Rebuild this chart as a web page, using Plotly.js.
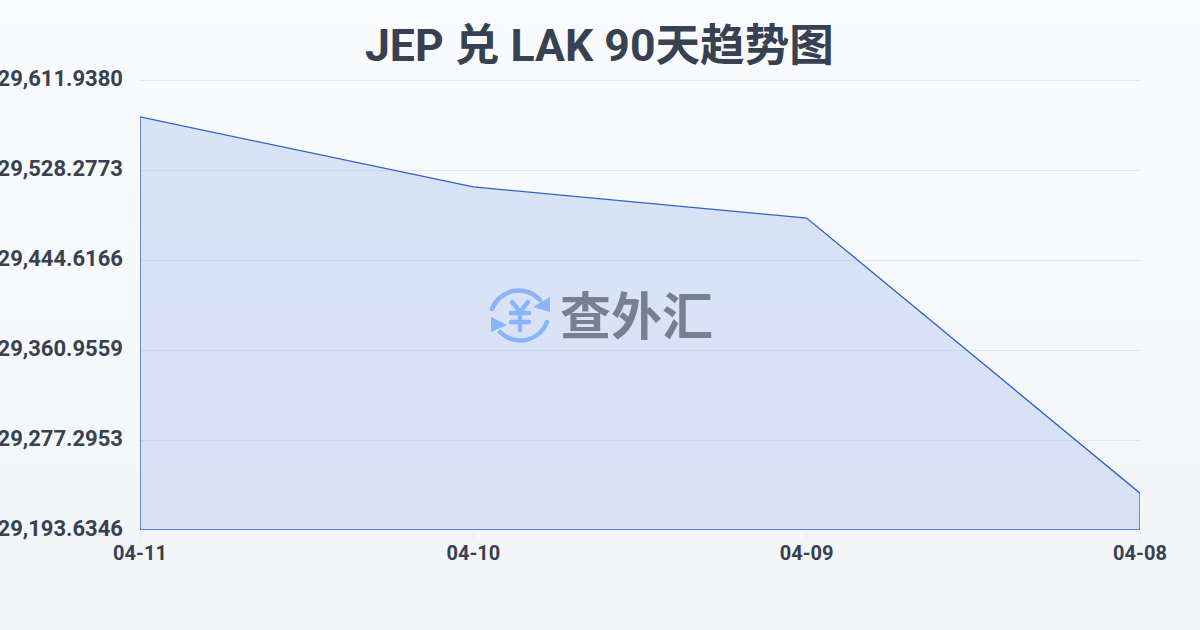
<!DOCTYPE html>
<html><head><meta charset="utf-8">
<script src="https://cdn.plot.ly/plotly-3.0.1.min.js"></script>
<style>
html,body{margin:0;padding:0;width:1200px;height:630px;overflow:hidden;background:linear-gradient(180deg,#fafbfd 0%,#f3f4f7 100%);}
#c{width:1200px;height:630px;}
</style></head><body><div id="c"></div>
<script>
const categories=["04-11","04-10","04-09","04-08"];
const values=[29577.6,29512.5,29483.6,29227.9];
const yTickVals=[29193.6346,29277.2953,29360.9559,29444.6166,29528.2773,29611.9380];
const yTickText=["29,193.6346","29,277.2953","29,360.9559","29,444.6166","29,528.2773","29,611.9380"];
const yMin=yTickVals[0], yMax=yTickVals[yTickVals.length-1];
const FONT='Roboto,"Noto Sans CJK SC",sans-serif';
const logo='<svg xmlns="http://www.w3.org/2000/svg" viewBox="0 0 60 60" width="60" height="60">'+
 '<g fill="none" stroke="#8ab4f8" stroke-width="4.5" stroke-linecap="round">'+
 '<path d="M2 24 A28.5 28.5 0 0 1 50 15"/><path d="M57 37 A28.5 28.5 0 0 1 10 47"/>'+
 '<path d="M22 17 L30 27 L38 17 M21 28 H39 M21 37 H39 M30 27 V45" stroke-width="4.5"/></g>'+
 '<path d="M60 12 L60 27 L43 22 Z M1 32 L17 40 L1 47 Z" fill="#8ab4f8"/></svg>';
const trace={
  type:"scatter",mode:"lines",
  x:categories.concat([categories[3],categories[0],categories[0]]),
  y:values.concat([yMin,yMin,values[0]]),
  fill:"toself",
  fillgradient:{type:"vertical",colorscale:[[0,"rgba(37,90,225,0.13)"],[1,"rgba(37,100,215,0.15)"]]},
  line:{color:"#2d62c9",width:1.3},
  hoverinfo:"skip",cliponaxis:false
};
const layout={
  width:1200,height:630,
  paper_bgcolor:"rgba(0,0,0,0)",plot_bgcolor:"rgba(0,0,0,0)",
  margin:{l:140,r:60,t:78,b:100},
  showlegend:false,
  title:{text:"JEP 兑 LAK 90天趋势图",x:0.4995,xanchor:"center",y:0.928,yanchor:"middle",
    font:{family:FONT,size:44.6,color:"#374151",weight:700}},
  xaxis:{type:"category",categoryorder:"array",categoryarray:categories,
    range:[0,3],showgrid:false,showline:false,zeroline:false,
    ticks:"outside",ticklen:10,tickcolor:"#e8eaee",tickwidth:1,ticklabelstandoff:-5,
    tickfont:{family:FONT,size:20,color:"#374151",weight:700}},
  yaxis:{range:[yMin,yMax+1.859],tickmode:"array",tickvals:yTickVals,ticktext:yTickText,
    showgrid:true,gridcolor:"#e5e7eb",gridwidth:1,zeroline:false,showline:false,
    ticks:"",ticklabelstandoff:16,ticklabelshift:-2,
    tickfont:{family:FONT,size:22,color:"#374151",weight:700}},
  images:[{source:"data:image/svg+xml;base64,"+btoa(logo),xref:"paper",yref:"paper",
    x:0.35,y:0.4757,sizex:0.06,sizey:0.1327,xanchor:"left",yanchor:"middle",sizing:"contain",layer:"above"}],
  annotations:[{text:"查外汇",xref:"paper",yref:"paper",x:0.496,y:0.48,xanchor:"center",yanchor:"middle",
    showarrow:false,font:{family:'"Noto Sans CJK SC",sans-serif',size:51,color:"#778091",weight:700}}]
};
Plotly.newPlot("c",[trace],layout,{displayModeBar:false,staticPlot:true});
</script></body></html>
